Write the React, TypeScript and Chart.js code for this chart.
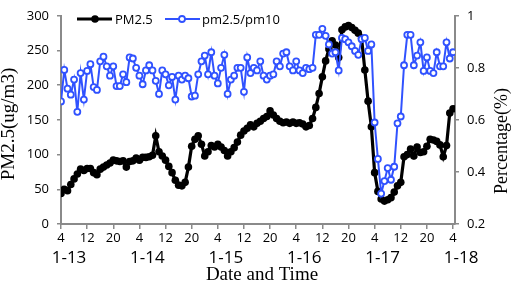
import { useEffect, useRef } from "react";
import { Chart, registerables } from "chart.js";

Chart.register(...registerables);

// Hourly observations from 1-13 04:00 to 1-18 04:00
const pm25: number[] = [
  44, 50, 48, 57, 65, 72, 79, 77, 80, 80,
  74, 71, 79, 82, 85, 88, 92, 91, 90, 91,
  82, 90, 91, 95, 92, 96, 96, 97, 99, 127,
  104, 98, 92, 83, 74, 63, 56, 55, 60, 82,
  112, 122, 127, 115, 98, 104, 113, 111, 115, 111,
  106, 98, 104, 110, 118, 128, 134, 138, 143, 140,
  145, 148, 152, 155, 163, 157, 152, 148, 146, 147,
  145, 147, 145, 146, 144, 140, 142, 152, 168, 188,
  212, 235, 252, 264, 258, 240, 280, 284, 286, 283,
  279, 275, 268, 222, 177, 140, 74, 47, 36, 33,
  35, 38, 46, 55, 60, 97, 100, 108, 98, 111,
  103, 104, 112, 122, 121, 119, 114, 97, 113, 160,
  166,
];

const ratio: number[] = [
  0.671, 0.792, 0.72, 0.697, 0.755, 0.631, 0.78, 0.678, 0.788, 0.814,
  0.726, 0.715, 0.825, 0.843, 0.806, 0.77, 0.806, 0.73, 0.73, 0.775,
  0.745, 0.84, 0.836, 0.8, 0.77, 0.737, 0.79, 0.81, 0.79, 0.75,
  0.7, 0.79, 0.775, 0.733, 0.765, 0.678, 0.77, 0.755, 0.77, 0.76,
  0.69, 0.693, 0.775, 0.825, 0.847, 0.775, 0.86, 0.77, 0.74, 0.8,
  0.85, 0.7, 0.755, 0.77, 0.8, 0.8, 0.708, 0.84, 0.78, 0.8,
  0.79, 0.825, 0.77, 0.755, 0.77, 0.775, 0.825, 0.806, 0.855, 0.86,
  0.806, 0.79, 0.825, 0.79, 0.78, 0.8, 0.795, 0.8, 0.927, 0.927,
  0.95, 0.923, 0.89, 0.855, 0.86, 0.79, 0.915, 0.91, 0.898, 0.883,
  0.865, 0.85, 0.91, 0.915, 0.865, 0.89, 0.59, 0.45, 0.317, 0.365,
  0.415, 0.37, 0.42, 0.587, 0.613, 0.81, 0.927, 0.927, 0.81, 0.847,
  0.898, 0.788, 0.84, 0.788, 0.78, 0.86, 0.806, 0.806, 0.898, 0.836,
  0.86,
];

const hourTickValues: number[] = [0, 8, 16, 24, 32, 40, 48, 56, 64, 72, 80, 88, 96, 104, 112, 120];
const hourLabels: string[] = ["4", "12", "20"];
const dateLabels: string[] = ["1-13", "1-14", "1-15", "1-16", "1-17", "1-18"];
const dateTickValues: number[] = [0, 24, 48, 72, 96, 120];
const leftTicks: number[] = [0, 50, 100, 150, 200, 250, 300];
const rightTicks: number[] = [0.2, 0.4, 0.6, 0.8, 1];

const BLUE = "#3052ff";
const AXIS = "#8a8a8a";
const SANS = "'Open Sans', sans-serif";
const SERIF = "'Liberation Serif', serif";

export default function App() {
  const ref = useRef<HTMLCanvasElement | null>(null);

  useEffect(() => {
    const canvas = ref.current;
    if (!canvas) return;

    const overlay = {
      id: "overlay",
      afterDraw(chart: any) {
        const ctx = chart.ctx;
        const xs = chart.scales.x;
        ctx.save();
        ctx.fillStyle = "#000";
        ctx.font = `17px ${SANS}`;
        ctx.textAlign = "center";
        ctx.textBaseline = "middle";
        dateLabels.forEach((d, i) => {
          ctx.fillText(d, xs.getPixelForValue(dateTickValues[i]) + 8, 258);
        });
        ctx.font = `19px ${SERIF}`;
        ctx.fillText("Date and Time", 262, 275);
        ctx.save();
        ctx.translate(9, 124);
        ctx.rotate(-Math.PI / 2);
        ctx.fillText("PM2.5(ug/m3)", 0, 0);
        ctx.restore();
        ctx.save();
        ctx.font = `18px ${SERIF}`;
        ctx.translate(502, 141);
        ctx.rotate(-Math.PI / 2);
        ctx.fillText("Percentage(%)", 0, 0);
        ctx.restore();
        // legend
        const ly = 19;
        ctx.strokeStyle = "#000";
        ctx.lineWidth = 3;
        ctx.beginPath();
        ctx.moveTo(77, ly);
        ctx.lineTo(112, ly);
        ctx.stroke();
        ctx.fillStyle = "#000";
        ctx.beginPath();
        ctx.arc(95, ly, 3.8, 0, Math.PI * 2);
        ctx.fill();
        ctx.font = `13px ${SANS}`;
        ctx.textAlign = "left";
        ctx.fillText("PM2.5", 115, ly + 1);
        ctx.strokeStyle = BLUE;
        ctx.lineWidth = 2;
        ctx.beginPath();
        ctx.moveTo(165, ly);
        ctx.lineTo(200, ly);
        ctx.stroke();
        ctx.fillStyle = "#fff";
        ctx.lineWidth = 1.8;
        ctx.beginPath();
        ctx.arc(182, ly, 3, 0, Math.PI * 2);
        ctx.fill();
        ctx.stroke();
        ctx.fillStyle = "#000";
        ctx.fillText("pm2.5/pm10", 202, ly + 1);
        ctx.restore();
      },
    };

    const tickFont = { family: SANS, size: 13 };

    const chart = new Chart(canvas, {
      type: "line",
      data: {
        datasets: [
          {
            label: "PM2.5",
            data: pm25.map((v, i) => ({ x: i, y: v })),
            yAxisID: "y",
            borderColor: "#000",
            backgroundColor: "#000",
            borderWidth: 3.2,
            pointRadius: 3.8,
            pointBackgroundColor: "#000",
            pointBorderWidth: 0,
            tension: 0,
            order: 1,
          },
          {
            label: "pm2.5/pm10",
            data: ratio.map((v, i) => ({ x: i, y: v })),
            yAxisID: "y1",
            borderColor: BLUE,
            backgroundColor: "#fff",
            borderWidth: 2,
            pointRadius: 3,
            pointBackgroundColor: "#fff",
            pointBorderColor: BLUE,
            pointBorderWidth: 1.8,
            tension: 0,
            order: 0,
          },
        ],
      },
      options: {
        responsive: false,
        animation: false,
        layout: { padding: { top: 5, left: 0, right: 0, bottom: 0 } },
        plugins: { legend: { display: false }, tooltip: { enabled: false } },
        scales: {
          x: {
            type: "linear",
            min: 0,
            max: 120.6,
            afterBuildTicks: (s: any) => {
              s.ticks = hourTickValues.map((v) => ({ value: v }));
            },
            afterFit: (s: any) => {
              s.height = 60;
            },
            grid: { drawOnChartArea: false, drawTicks: true, tickLength: 5, color: AXIS, lineWidth: 1.5 },
            border: { display: true, color: AXIS, width: 2 },
            ticks: {
              font: tickFont,
              color: "#000",
              padding: 1,
              maxRotation: 0,
              autoSkip: false,
              callback: (_v: any, i: number) => hourLabels[i % 3],
            },
          },
          y: {
            position: "left",
            min: 0,
            max: 300,
            afterBuildTicks: (s: any) => {
              s.ticks = leftTicks.map((v) => ({ value: v }));
            },
            afterFit: (s: any) => {
              s.width = 61;
            },
            grid: { drawOnChartArea: false, drawTicks: true, tickLength: 4, color: AXIS, lineWidth: 1.5 },
            border: { display: true, color: AXIS, width: 2 },
            ticks: { font: tickFont, color: "#000", padding: 8 },
          },
          y1: {
            position: "right",
            min: 0.2,
            max: 1,
            afterBuildTicks: (s: any) => {
              s.ticks = rightTicks.map((v) => ({ value: v }));
            },
            afterFit: (s: any) => {
              s.width = 57;
            },
            grid: { drawOnChartArea: false, drawTicks: true, tickLength: 4, color: AXIS, lineWidth: 1.5 },
            border: { display: true, color: AXIS, width: 2 },
            ticks: {
              font: tickFont,
              color: "#000",
              padding: 8,
              callback: (v: any) => String(Number(Number(v).toFixed(1))),
            },
          },
        },
      },
      plugins: [overlay],
    } as any);

    return () => chart.destroy();
  }, []);

  return (
    <div style={{ position: "fixed", left: 0, top: 0, width: 512, height: 284, background: "#fff" }}>
      <canvas ref={ref} width={512} height={284} style={{ display: "block", width: 512, height: 284 }} />
    </div>
  );
}
